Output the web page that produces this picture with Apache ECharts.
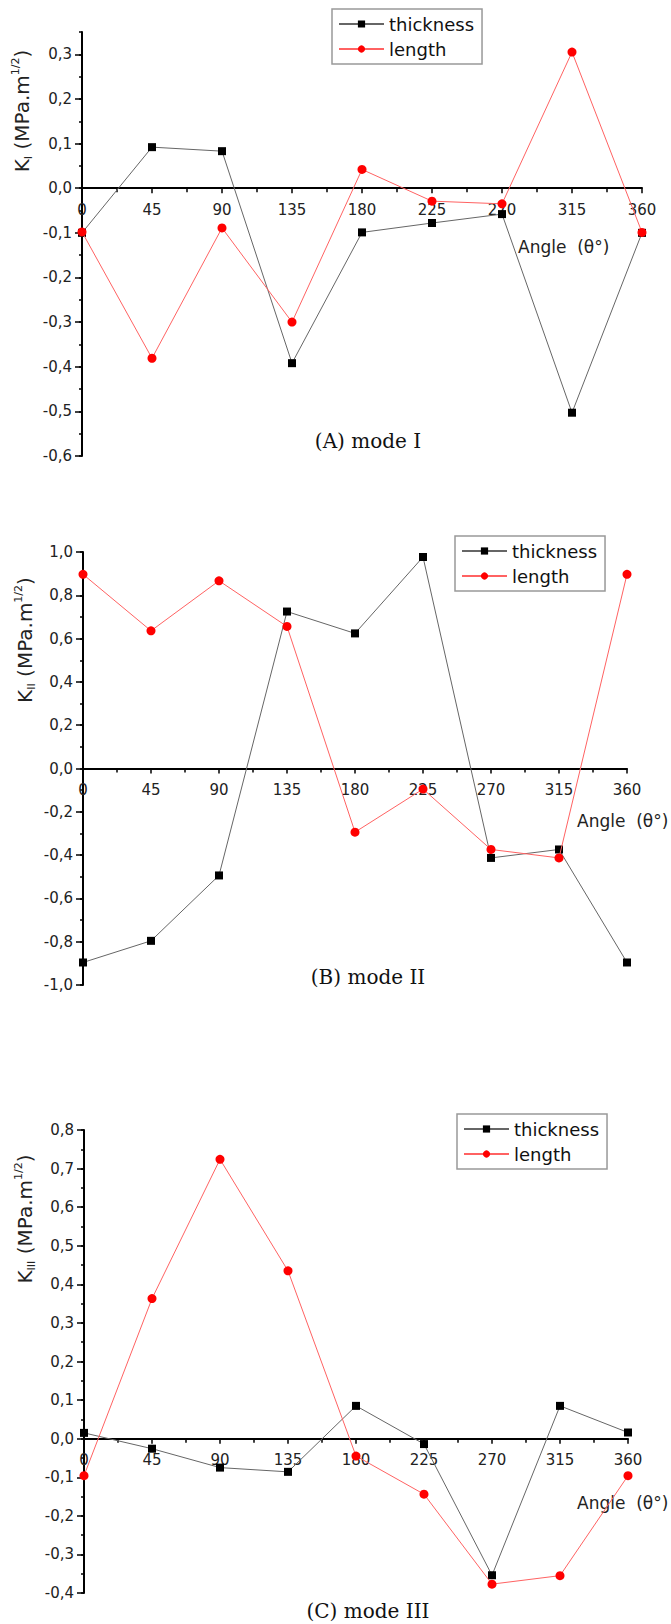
<!DOCTYPE html>
<html><head><meta charset="utf-8">
<script src="https://cdn.jsdelivr.net/npm/echarts@6/dist/echarts.min.js"></script>
<style>html,body{margin:0;padding:0;background:#fff}#c{width:671px;height:1624px}</style>
</head><body><div id="c"></div>
<script>
// ---- data ----
const angles = [0, 45, 90, 135, 180, 225, 270, 315, 360];
const seriesNames = ['thickness', 'length'];

const modeI_thickness = [-0.100, 0.092, 0.083, -0.392, -0.099, -0.078, -0.058, -0.503, -0.100];
const modeI_length    = [-0.098, -0.381, -0.089, -0.300, 0.042, -0.029, -0.035, 0.305, -0.099];

const modeII_thickness = [-0.896, -0.796, -0.494, 0.725, 0.624, 0.977, -0.413, -0.374, -0.896];
const modeII_length    = [0.897, 0.636, 0.867, 0.656, -0.294, -0.095, -0.374, -0.413, 0.897];

const modeIII_thickness = [0.015, -0.026, -0.075, -0.086, 0.085, -0.014, -0.354, 0.085, 0.016];
const modeIII_length    = [-0.096, 0.363, 0.724, 0.435, -0.045, -0.144, -0.377, -0.355, -0.096];

const yTicksI   = [-0.6, -0.5, -0.4, -0.3, -0.2, -0.1, 0.0, 0.1, 0.2, 0.3];
const yTicksII  = [-1.0, -0.8, -0.6, -0.4, -0.2, 0.0, 0.2, 0.4, 0.6, 0.8, 1.0];
const yTicksIII = [-0.4, -0.3, -0.2, -0.1, 0.0, 0.1, 0.2, 0.3, 0.4, 0.5, 0.6, 0.7, 0.8];

const yRangeI = [-0.6, 0.35], yRangeII = [-1.0, 1.0], yRangeIII = [-0.4, 0.8];
const yMinorStep = [0.05, 0.1, 0.05];

const subs = ['I', 'II', 'III'];
const captions = ['(A) mode I', '(B) mode II', '(C) mode III'];
const xTitle = 'Angle  (\u03b8\u00b0)';

// ---- layout ----
const panels = [
  {grid:{left:82, width:560, top:32, height:424}, range:yRangeI, ticks:yTicksI, thick:modeI_thickness, len:modeI_length,
   legend:{left:332, top:9}, angle:{x:518, y:249}, cap:{x:368, y:441}, yname:{x:22, y:111}},
  {grid:{left:83, width:544, top:552, height:433}, range:yRangeII, ticks:yTicksII, thick:modeII_thickness, len:modeII_length,
   legend:{left:455, top:536}, angle:{x:577, y:823}, cap:{x:368, y:977}, yname:{x:25, y:640}},
  {grid:{left:84, width:544, top:1130, height:463}, range:yRangeIII, ticks:yTicksIII, thick:modeIII_thickness, len:modeIII_length,
   legend:{left:457, top:1114}, angle:{x:577, y:1505}, cap:{x:368, y:1611}, yname:{x:25, y:1219}}
];

const FONT = 'DejaVu Sans';
const fmt = v => v.toFixed(1).replace('.', ',');
const pairs = (ys) => angles.map((a, i) => [a, ys[i]]);

const option = {
  animation: false,
  backgroundColor: '#fff',
  grid: [], xAxis: [], yAxis: [], series: [], legend: [], graphic: []
};

panels.forEach((p, i) => {
  option.grid.push(Object.assign({containLabel:false, outerBoundsMode:'none'}, p.grid));
  // place the x axis on the y = 0 line of its panel
  const zeroOffset = -(0 - p.range[0]) / (p.range[1] - p.range[0]) * p.grid.height;
  option.xAxis.push({
    gridIndex: i, type: 'value', min: 0, max: 360, interval: 45, position: 'bottom', offset: zeroOffset,
    axisLine: {show: true, onZero: false, lineStyle: {color: '#000', width: 2}},
    axisTick: {show: true, inside: false, length: 5, lineStyle: {color: '#000', width: 1.5}},
    minorTick: {show: true, splitNumber: 2, length: 4, lineStyle: {color: '#000', width: 1.5}},
    splitLine: {show: false}, minorSplitLine: {show: false},
    axisLabel: {margin: 14, fontSize: 15, fontFamily: FONT, color: '#222'}
  });
  const minor = [];
  for (let v = p.range[0]; v <= p.range[1] + 1e-9; v += yMinorStep[i]) minor.push(Math.round(v * 1000) / 1000);
  option.yAxis.push({
    gridIndex: i, type: 'value', min: p.range[0], max: p.range[1], position: 'left',
    axisLine: {show: true, onZero: false, lineStyle: {color: '#000', width: 2}},
    axisTick: {show: true, inside: false, length: 7, customValues: p.ticks, lineStyle: {color: '#000', width: 1.5}},
    axisLabel: {customValues: p.ticks, formatter: fmt, margin: 10, fontSize: 15, fontFamily: FONT, color: '#222'},
    splitLine: {show: false}
  });
  option.yAxis.push({
    gridIndex: i, type: 'value', min: p.range[0], max: p.range[1], position: 'left',
    axisLine: {show: false, onZero: false},
    axisTick: {show: true, inside: false, length: 3, customValues: minor, lineStyle: {color: '#000', width: 1.5}},
    axisLabel: {show: false}, splitLine: {show: false}
  });
  option.series.push({
    name: seriesNames[0], type: 'line', xAxisIndex: i, yAxisIndex: 2 * i, data: pairs(p.thick),
    symbol: 'rect', symbolSize: 8, clip: false, z: 2,
    itemStyle: {color: '#000'}, lineStyle: {color: '#666', width: 1}
  });
  option.series.push({
    name: seriesNames[1], type: 'line', xAxisIndex: i, yAxisIndex: 2 * i, data: pairs(p.len),
    symbol: 'circle', symbolSize: 9, clip: false, z: 3,
    itemStyle: {color: '#ff0000'}, lineStyle: {color: '#ff6262', width: 1}
  });
  option.legend.push({
    left: p.legend.left, top: p.legend.top, orient: 'vertical', data: seriesNames,
    itemWidth: 45, itemHeight: 9, itemGap: 3, padding: [4, 8, 4, 6],
    borderColor: '#999', borderWidth: 1.5, backgroundColor: '#fff', selectedMode: false,
    textStyle: {fontFamily: FONT, fontSize: 18, color: '#111', lineHeight: 22}
  });
  option.graphic.push({
    type: 'text', left: p.angle.x, top: p.angle.y - 11,
    style: {text: xTitle, fontFamily: FONT, fontSize: 17, fill: '#222'}
  });
  option.graphic.push({
    type: 'text', x: p.cap.x, y: p.cap.y,
    style: {text: captions[i], fontFamily: 'DejaVu Serif', fontSize: 20, fill: '#111', align: 'center', verticalAlign: 'middle'}
  });
  option.graphic.push({
    type: 'text', x: p.yname.x, y: p.yname.y, rotation: Math.PI / 2,
    style: {
      text: '{m|K}{sub|' + subs[i] + '}{m| (MPa.m}{sup|1/2}{m|)}',
      align: 'center', verticalAlign: 'middle', fontFamily: FONT, fontSize: 20, fill: '#222',
      rich: {
        m: {fontFamily: FONT, fontSize: 20, fill: '#222', lineHeight: 24},
        sub: {fontFamily: FONT, fontSize: 11, fill: '#222', lineHeight: 11, verticalAlign: 'bottom'},
        sup: {fontFamily: FONT, fontSize: 11, fill: '#222', lineHeight: 11, verticalAlign: 'top'}
      }
    }
  });
});

const chart = echarts.init(document.getElementById('c'), null, {renderer: 'svg'});
chart.setOption(option);
</script>
</body></html>
